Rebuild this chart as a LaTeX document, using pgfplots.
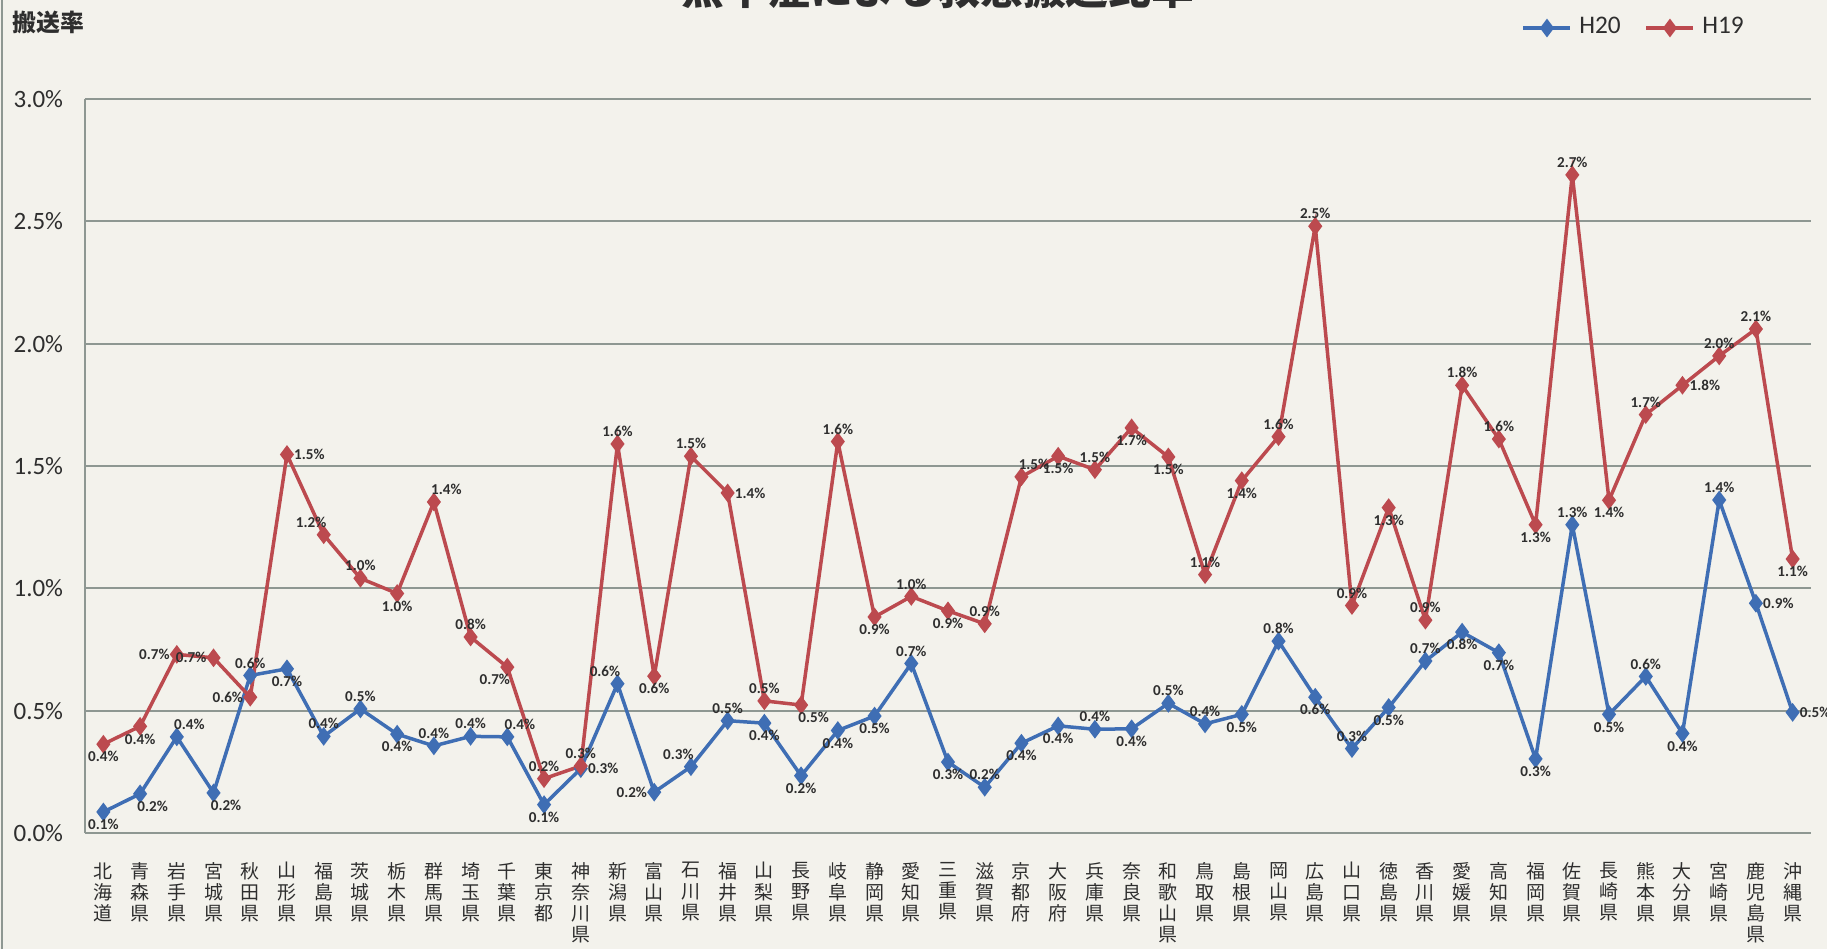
\documentclass[border=0pt]{standalone}
\usepackage{fontspec}
\setmainfont{Carlito}
\newfontfamily\cjk{Noto Sans CJK JP}
\usepackage{pgfplots}
\pgfplotsset{compat=1.18}
\definecolor{bg}{HTML}{F3F2EC}
\definecolor{gridc}{HTML}{8E9792}
\definecolor{red19}{HTML}{BC4A4F}
\definecolor{blue20}{HTML}{3F6EB4}
\definecolor{txt}{HTML}{2E2E2E}

\begin{document}
\begin{tikzpicture}[x=1cm,y=1cm]
\useasboundingbox (0,0) rectangle (18.27,9.49);
\fill[bg] (0,0) rectangle (18.27,9.49);
\draw[gridc,line width=0.02cm] (0.02,0) -- (0.02,9.49);
\node[font=\cjk\bfseries\fontsize{12.2}{13}\selectfont, anchor=base, text=txt, inner sep=0] at (9.38,9.44) {熱中症による救急搬送比率};
\node[font=\cjk\bfseries\fontsize{6.8}{7}\selectfont, anchor=west, inner sep=0, text=txt] at (0.12,9.27) {搬送率};
\begin{axis}[
  at={(0.85cm,1.16cm)}, anchor=south west,
  width=17.26cm, height=7.34cm, scale only axis,
  xmin=-0.5, xmax=46.5, ymin=0, ymax=3,
  xtick={0,...,46},
  xticklabels={北\\海\\道,青\\森\\県,岩\\手\\県,宮\\城\\県,秋\\田\\県,山\\形\\県,福\\島\\県,茨\\城\\県,栃\\木\\県,群\\馬\\県,埼\\玉\\県,千\\葉\\県,東\\京\\都,神\\奈\\川\\県,新\\潟\\県,富\\山\\県,石\\川\\県,福\\井\\県,山\\梨\\県,長\\野\\県,岐\\阜\\県,静\\岡\\県,愛\\知\\県,三\\重\\県,滋\\賀\\県,京\\都\\府,大\\阪\\府,兵\\庫\\県,奈\\良\\県,和\\歌\\山\\県,鳥\\取\\県,島\\根\\県,岡\\山\\県,広\\島\\県,山\\口\\県,徳\\島\\県,香\\川\\県,愛\\媛\\県,高\\知\\県,福\\岡\\県,佐\\賀\\県,長\\崎\\県,熊\\本\\県,大\\分\\県,宮\\崎\\県,鹿\\児\\島\\県,沖\\縄\\県},
  xticklabel style={font=\cjk\fontsize{5.4}{6}\selectfont, align=center, text=txt, anchor=north, yshift=-0.17cm},
  ytick={0,0.5,1,1.5,2,2.5,3},
  yticklabel={\pgfmathprintnumber[fixed,precision=1,fixed zerofill]{\tick}\%},
  yticklabel style={font=\fontsize{7.1}{8}\selectfont, text=txt, xshift=-0.095cm},
  /pgf/number format/assume math mode=true,
  major tick length=0pt,
  axis x line*=bottom, axis y line*=left,
  axis line style={gridc, line width=0.02cm, -},
  ymajorgrids, major grid style={gridc, line width=0.02cm},
  clip=false,
  legend style={at={(0.832,1.0967)}, anchor=west, draw=none, fill=none, inner sep=0pt,
    font=\fontsize{7.2}{8}\selectfont, text=txt, legend columns=2,
    /tikz/every even column/.append style={column sep=0.17cm}},
  legend image code/.code={\draw[mark repeat=2,mark phase=2,#1] plot coordinates {(0cm,0cm) (0.235cm,0cm) (0.47cm,0cm)};},
  every node near coord/.append style={font=\bfseries\fontsize{4.3}{5}\selectfont, text=txt, inner sep=0.055cm},
]
\addlegendimage{blue20, line width=0.035cm, mark=diamond*, mark size=0.065cm, mark options={solid}}
\addlegendentry{H20}
\addlegendimage{red19, line width=0.035cm, mark=diamond*, mark size=0.065cm, mark options={solid}}
\addlegendentry{H19}
\addplot[forget plot, blue20, line width=0.035cm, mark=diamond*, mark size=0.065cm, mark options={solid},
  nodes near coords={\pgfmathprintnumber[fixed,precision=1,fixed zerofill]{\pgfplotspointmeta}\%},
  visualization depends on={value \thisrow{a} \as \anc},
  every node near coord/.append style={anchor=\anc}]
  table[x=x, y=y] {
x y a
0 0.086 90
1 0.160 135
2 0.393 225
3 0.164 135
4 0.644 270
5 0.671 90
6 0.395 270
7 0.507 270
8 0.404 90
9 0.356 270
10 0.395 270
11 0.393 225
12 0.116 90
13 0.263 180
14 0.610 315
15 0.167 0
16 0.271 315
17 0.459 270
18 0.449 90
19 0.234 90
20 0.419 90
21 0.478 90
22 0.693 270
23 0.290 90
24 0.187 270
25 0.367 90
26 0.438 90
27 0.424 270
28 0.426 90
29 0.530 270
30 0.446 270
31 0.485 90
32 0.784 270
33 0.555 90
34 0.345 270
35 0.513 90
36 0.703 270
37 0.821 90
38 0.737 90
39 0.303 90
40 1.260 270
41 0.485 90
42 0.640 270
43 0.407 90
44 1.361 270
45 0.939 180
46 0.493 180
};
\addplot[forget plot, red19, line width=0.035cm, mark=diamond*, mark size=0.065cm, mark options={solid},
  nodes near coords={\pgfmathprintnumber[fixed,precision=1,fixed zerofill]{\pgfplotspointmeta}\%},
  visualization depends on={value \thisrow{a} \as \anc},
  every node near coord/.append style={anchor=\anc}]
  table[x=x, y=y] {
x y a
0 0.363 90
1 0.436 90
2 0.730 0
3 0.716 0
4 0.555 0
5 1.547 180
6 1.219 315
7 1.041 270
8 0.979 90
9 1.353 225
10 0.801 270
11 0.678 45
12 0.222 270
13 0.274 270
14 1.590 270
15 0.641 90
16 1.540 270
17 1.390 180
18 0.540 270
19 0.523 135
20 1.600 270
21 0.883 90
22 0.967 270
23 0.908 90
24 0.855 270
25 1.456 225
26 1.540 90
27 1.485 270
28 1.656 90
29 1.537 90
30 1.056 270
31 1.440 90
32 1.620 270
33 2.480 270
34 0.930 270
35 1.330 90
36 0.870 270
37 1.830 270
38 1.610 270
39 1.260 90
40 2.690 270
41 1.360 90
42 1.710 270
43 1.830 180
44 1.950 270
45 2.060 270
46 1.120 90
};
\end{axis}
\end{tikzpicture}
\end{document}
